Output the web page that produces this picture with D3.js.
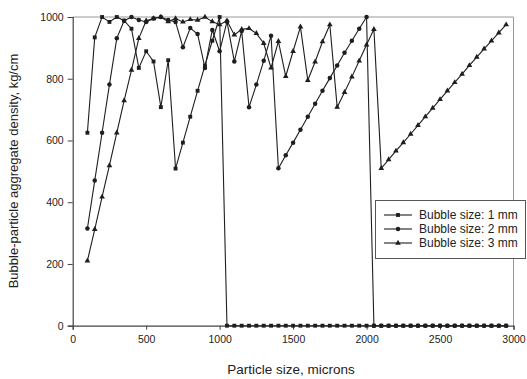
<!DOCTYPE html>
<html>
<head>
<meta charset="utf-8">
<script src="https://cdn.jsdelivr.net/npm/d3@7"></script>
<style>
  body { margin: 0; background: #fff; }
  svg { display: block; font-family: "Liberation Sans", Arial, sans-serif; }
</style>
</head>
<body>
<svg id="chart" width="527" height="379"></svg>
<script>
// particle sizes, microns
const particleSizes = [
  100, 150, 200, 250, 300, 350, 400, 450, 500, 550,
  600, 650, 700, 750, 800, 850, 900, 950, 1000, 1050,
  1100, 1150, 1200, 1250, 1300, 1350, 1400, 1450, 1500, 1550,
  1600, 1650, 1700, 1750, 1800, 1850, 1900, 1950, 2000, 2050,
  2100, 2150, 2200, 2250, 2300, 2350, 2400, 2450, 2500, 2550,
  2600, 2650, 2700, 2750, 2800, 2850, 2900, 2950
];

// aggregate density, kg/cm
const bubble1mm = [
  625, 934, 1000, 984, 1000, 988, 962, 835, 889, 856,
  708, 860, 509, 593, 677, 761, 843, 923, 1000, 0,
  0, 0, 0, 0, 0, 0, 0, 0, 0, 0,
  0, 0, 0, 0, 0, 0, 0, 0, 0, 0,
  0, 0, 0, 0, 0, 0, 0, 0, 0, 0,
  0, 0, 0, 0, 0, 0, 0, 0
];
const bubble2mm = [
  315, 470, 625, 781, 931, 988, 1000, 990, 984, 995,
  1000, 990, 984, 902, 964, 945, 835, 958, 889, 985,
  856, 955, 708, 781, 858, 939, 510, 552, 593, 635,
  677, 719, 761, 802, 843, 884, 923, 962, 1000, 0,
  0, 0, 0, 0, 0, 0, 0, 0, 0, 0,
  0, 0, 0, 0, 0, 0, 0, 0
];
const bubble3mm = [
  210, 312, 417, 519, 625, 729, 828, 931, 988, 995,
  1000, 985, 995, 984, 992, 990, 1000, 985, 975, 988,
  942, 960, 963, 947, 915, 835, 921, 808, 889, 968,
  795, 855, 920, 975, 708, 756, 806, 858, 910, 960,
  510, 538, 566, 593, 621, 649, 677, 705, 733, 761,
  788, 815, 843, 870, 897, 923, 949, 975
];

const seriesNames = ["Bubble size: 1 mm", "Bubble size: 2 mm", "Bubble size: 3 mm"];
const xTicks = [0, 500, 1000, 1500, 2000, 2500, 3000];
const yTicks = [0, 200, 400, 600, 800, 1000];

const series = [
  { name: seriesNames[0], values: bubble1mm, symbol: d3.symbolSquare, size: 15 },
  { name: seriesNames[1], values: bubble2mm, symbol: d3.symbolCircle, size: 16 },
  { name: seriesNames[2], values: bubble3mm, symbol: d3.symbolTriangle, size: 14 }
];

const ink = "#1e1e1e";
const svg = d3.select("#chart");

const x = d3.scaleLinear().domain([0, 3000]).range([72.7, 513.5]);
const y = d3.scaleLinear().domain([0, 1000]).range([325.7, 17]);

// frame (top and right)
svg.append("path")
  .attr("d", `M${x(0)},${y(1000)}H${x(3000)}V${y(0)}`)
  .attr("fill", "none")
  .attr("stroke", "#9a9a9a")
  .attr("stroke-width", 1);

// axes
const xAxis = svg.append("g")
  .attr("transform", `translate(0,${y(0)})`)
  .call(d3.axisBottom(x).tickValues(xTicks).tickSize(4).tickPadding(6).tickFormat(d3.format("d")));
const yAxis = svg.append("g")
  .attr("transform", `translate(${x(0)},0)`)
  .call(d3.axisLeft(y).tickValues(yTicks).tickSize(5).tickPadding(4).tickFormat(d3.format("d")));

[xAxis, yAxis].forEach(g => {
  g.select(".domain").attr("stroke", "#444").attr("stroke-width", 1.2);
  g.selectAll(".tick line").attr("stroke", "#444");
  g.selectAll("text")
    .attr("fill", "#222")
    .style("font-size", "10.5px")
    .style("font-family", "'Liberation Sans', Arial, sans-serif");
});

// series lines
const line = d3.line()
  .x((d, i) => x(particleSizes[i]))
  .y(d => y(d));

series.forEach(s => {
  svg.append("path")
    .datum(s.values)
    .attr("fill", "none")
    .attr("stroke", ink)
    .attr("stroke-width", 1.1)
    .attr("d", line);

  svg.append("g")
    .selectAll("path")
    .data(s.values)
    .enter()
    .append("path")
    .attr("d", d3.symbol().type(s.symbol).size(s.size))
    .attr("transform", (d, i) => "translate(" + x(particleSizes[i]) + "," + y(d) + ")")
    .attr("fill", ink);
});

// axis titles
svg.append("text")
  .attr("x", 291)
  .attr("y", 374)
  .attr("text-anchor", "middle")
  .attr("fill", "#222")
  .style("font-size", "13.5px")
  .text("Particle size, microns");

svg.append("text")
  .attr("transform", "translate(18,171) rotate(-90)")
  .attr("text-anchor", "middle")
  .attr("fill", "#222")
  .style("font-size", "13px")
  .text("Bubble-particle aggregate density, kg/cm");

// legend
const legend = svg.append("g");
legend.append("rect")
  .attr("x", 375.5)
  .attr("y", 200.5)
  .attr("width", 150)
  .attr("height", 58)
  .attr("fill", "#fff")
  .attr("stroke", "#555");

series.forEach((s, i) => {
  const ly = 215 + i * 14;
  legend.append("line")
    .attr("x1", 384).attr("x2", 412)
    .attr("y1", ly).attr("y2", ly)
    .attr("stroke", ink)
    .attr("stroke-width", 1.1);
  legend.append("path")
    .attr("d", d3.symbol().type(s.symbol).size(s.size))
    .attr("transform", "translate(398," + ly + ")")
    .attr("fill", ink);
  legend.append("text")
    .attr("x", 419)
    .attr("y", ly)
    .attr("dy", "0.35em")
    .attr("fill", "#222")
    .style("font-size", "12px")
    .text(s.name);
});
</script>
</body>
</html>
